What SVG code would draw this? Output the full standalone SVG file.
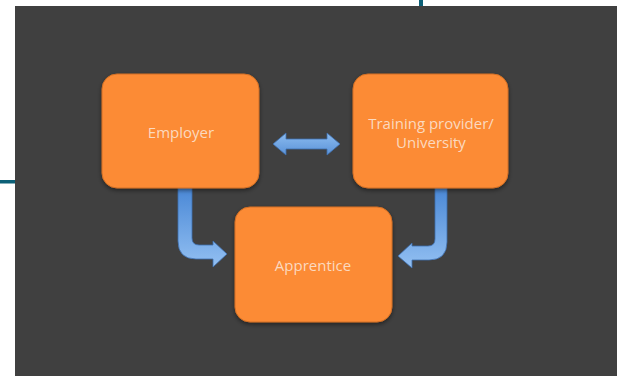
<svg xmlns="http://www.w3.org/2000/svg" width="617" height="376" viewBox="0 0 617 376">
<defs>
<style>
.box{fill:#fc8b36;stroke:#d26f24;stroke-width:1}
.lbl{font-family:"Open Sans","Liberation Sans",sans-serif;font-size:15px;fill:#fbd9bf;text-anchor:middle}
.arr{fill:url(#blue);stroke:#3d6fae;stroke-width:0.8}
</style>
<linearGradient id="blue" x1="0" y1="0" x2="0" y2="1">
<stop offset="0" stop-color="#4a88d6"/>
<stop offset="1" stop-color="#93c0f2"/>
</linearGradient>
<linearGradient id="blueh" x1="0" y1="0" x2="0" y2="1">
<stop offset="0" stop-color="#8cbcf0"/>
<stop offset="1" stop-color="#5a92d8"/>
</linearGradient>
<filter id="sh" x="-10%" y="-10%" width="120%" height="130%">
<feDropShadow dx="0" dy="2" stdDeviation="2" flood-color="#000" flood-opacity="0.45"/>
</filter>
</defs>
<rect x="0" y="0" width="617" height="376" fill="#ffffff"/>
<rect x="15" y="6" width="602" height="370" fill="#404040"/>
<rect x="419" y="0" width="4" height="6" fill="#0c6077"/>
<rect x="0" y="180" width="15" height="3.5" fill="#0c6077"/>
<g id="connectors">
<path class="arr" style="fill:url(#blueh)" d="M273,144 L286,133 L286,139 L327,139 L327,133 L340,144 L327,155 L327,149 L286,149 L286,155 Z"/>
<path class="arr" d="M178,188 L192,188 L192,238 Q192,245 199,245 L213,245 L213,241 L227,254 L213,267 L213,259 L196,259 Q178,259 178,241 Z"/>
<path class="arr" d="M435,188 L447,188 L447,242 Q447,260 429,260 L412,260 L412,268 L398,256 L412,243 L412,246 L428,246 Q435,246 435,239 Z"/>
</g>
<g id="employer">
<rect class="box" filter="url(#sh)" x="102" y="74" width="157" height="114" rx="15"/>
<text class="lbl" x="181" y="138">Employer</text>
</g>
<g id="training">
<rect class="box" filter="url(#sh)" x="353" y="74" width="155" height="114" rx="15"/>
<text class="lbl" x="431" y="129">Training provider/</text>
<text class="lbl" x="431" y="148">University</text>
</g>
<g id="apprentice">
<rect class="box" filter="url(#sh)" x="235" y="207" width="157" height="115" rx="15"/>
<text class="lbl" x="313" y="271">Apprentice</text>
</g>
</svg>
